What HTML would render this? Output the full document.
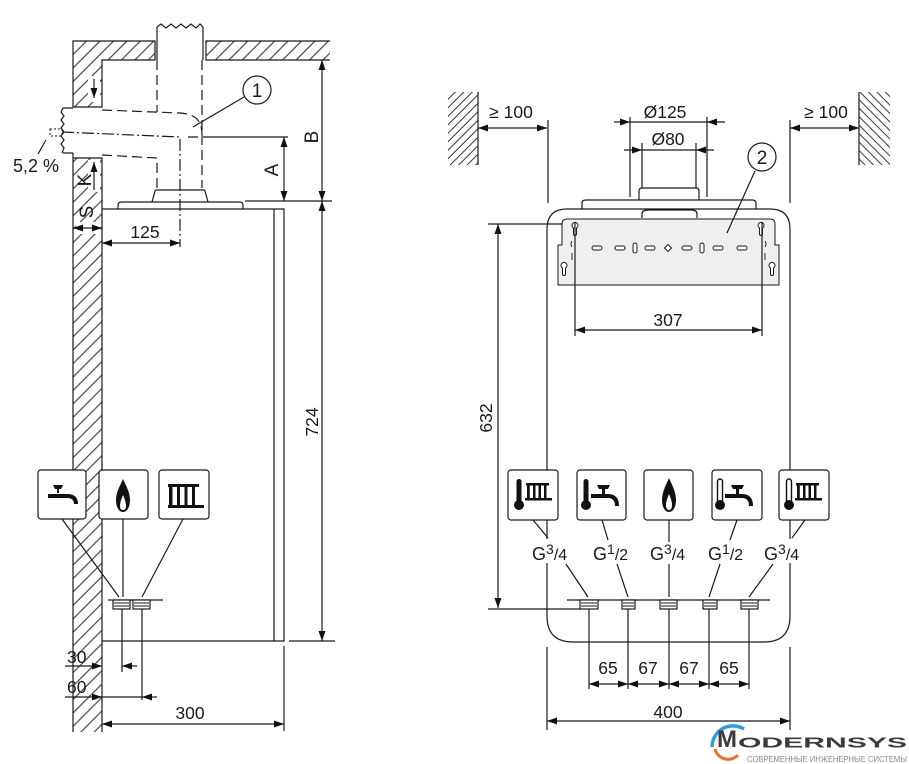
<!DOCTYPE html>
<html><head><meta charset="utf-8"><style>
html,body{margin:0;padding:0;background:#fff;}
svg{display:block;}
text{font-family:"Liberation Sans",Arial,sans-serif;fill:#1a1a1a;}
</style></head><body>
<svg width="909" height="764" viewBox="0 0 909 764" xmlns="http://www.w3.org/2000/svg">
<defs>
<marker id="a" viewBox="0 0 10 7" refX="10" refY="3.5" markerWidth="10" markerHeight="7" markerUnits="userSpaceOnUse" orient="auto-start-reverse"><path d="M0,0L10,3.5L0,7z" fill="#111"/></marker>
<pattern id="h1" width="9.5" height="9.5" patternUnits="userSpaceOnUse" patternTransform="rotate(45)"><line x1="4.75" y1="0" x2="4.75" y2="9.5" stroke="#222" stroke-width="1"/></pattern>
<pattern id="h2" width="6" height="6" patternUnits="userSpaceOnUse" patternTransform="rotate(45)"><line x1="3" y1="0" x2="3" y2="6" stroke="#222" stroke-width="0.9"/></pattern>
<pattern id="h3" width="6" height="6" patternUnits="userSpaceOnUse" patternTransform="rotate(-45)"><line x1="3" y1="0" x2="3" y2="6" stroke="#222" stroke-width="0.9"/></pattern>
</defs>
<rect width="909" height="764" fill="#fff"/>

<g stroke="#1a1a1a" stroke-width="1.2" fill="none">
<!-- ===== LEFT VIEW ===== -->
<!-- ceiling + upper wall -->
<path d="M73,41 L155,41 L155,60 L102,60 L102,107 L73,107 Z" fill="url(#h1)" stroke="none"/>
<path d="M206,41 L330,41 L330,60 L206,60 Z" fill="url(#h1)" stroke="none"/>
<rect x="88" y="76" width="12" height="26" fill="#fff" stroke="none"/>
<path d="M155,41 L73,41 L73,107 L102,107 L102,60 L155,60 Z"/>
<path d="M330,41 L206,41 L206,60 L330,60"/>
<!-- lower wall -->
<rect x="73" y="158" width="29" height="574" fill="url(#h1)" stroke="none"/>
<rect x="88" y="160" width="12" height="32" fill="#fff" stroke="none"/>
<rect x="76" y="222" width="24" height="12" fill="#fff" stroke="none"/>
<path d="M73,732 L73,153 M73,158 L102,158 L102,732"/>
<!-- pipe through ceiling -->
<path d="M157,60 L157,27 M203,60 L203,27"/>
<path d="M157,27 L161,24 L166,28 L171,24 L176,28 L181,24 L186,28 L191,24 L196,28 L200,24 L203,27"/>
<path d="M157,60 L157,112 M202,60 L202,188" stroke-dasharray="10,5"/>
<!-- horizontal pipe -->
<path d="M63,108 L73,108 M63,153 L73,153"/>
<path d="M102,110 L180,113 C196,114 202,121 202,135" stroke-dasharray="10,5"/>
<path d="M102,155 L157,158 L157,188" stroke-dasharray="10,5"/>
<path d="M63,108 L61,112 L64,116 L61,120 L64,124 L61,128 L64,132 L61,136 L64,140 L61,144 L64,148 L62,153"/>
<rect x="50" y="129" width="12" height="7" stroke-dasharray="2,2" stroke-width="1"/>
<path d="M62,132 L180,137 L180,247" stroke-dasharray="12,3,2,3"/>
<path d="M188,137 L198,137 M203,137 L288,137"/>
<!-- 5,2% leader -->
<path d="M46,140 L38,154"/>
<!-- circle 1 -->
<circle cx="257" cy="90" r="14"/>
<path d="M244,97 L193,127"/>
<!-- down arrow in wall -->
<path d="M94,79 L94,98" marker-end="url(#a)"/>
<!-- K -->
<path d="M94,190 L94,162" marker-end="url(#a)"/>
<!-- S -->
<path d="M73,228 L102,228" marker-start="url(#a)" marker-end="url(#a)"/>
<!-- boiler side -->
<path d="M102,209 L284,209 L284,641 L102,641"/>
<path d="M274,209 L274,641"/>
<path d="M118,209 L118,205 Q118,202 122,202 L239,202 Q243,202 243,205 L243,209"/>
<path d="M152,202 L155,191 Q155,190 157,190 L203,190 Q205,190 205,191 L208,202"/>
<!-- dims A, B, 724 -->
<path d="M284,137 L284,201" marker-start="url(#a)" marker-end="url(#a)"/>
<path d="M322,60 L322,201" marker-start="url(#a)" marker-end="url(#a)"/>
<path d="M322,201 L322,641" marker-start="url(#a)" marker-end="url(#a)"/>
<path d="M245,201 L332,201"/>
<path d="M330,60 L330,60"/>
<path d="M289,641 L335,641"/>
<!-- 125 -->
<path d="M102,243 L180,243" marker-start="url(#a)" marker-end="url(#a)"/>
<!-- icons left -->
<rect x="38" y="470" width="48" height="49" rx="3" fill="#fff"/>
<rect x="99" y="470" width="49" height="49" rx="3" fill="#fff"/>
<rect x="159" y="470" width="50" height="49" rx="3" fill="#fff"/>
<path d="M62,519 L119,597 M123,519 L123,597 M183,519 L142,597"/>
<path d="M108,600 L163,600"/>
<rect x="113" y="600" width="17" height="9" fill="#fff"/>
<rect x="133" y="600" width="17" height="9" fill="#fff"/>
<path d="M114,603 L129,603 M114,606 L129,606 M134,603 L149,603 M134,606 L149,606" stroke-width="0.9"/>
<path d="M122,609 L122,672 M142,609 L142,700"/>
<!-- 30 / 60 / 300 -->
<path d="M65,666 L102,666" marker-end="url(#a)"/>
<path d="M137,666 L122,666" marker-end="url(#a)"/>
<path d="M65,697 L102,697" marker-end="url(#a)"/>
<path d="M157,697 L142,697" marker-end="url(#a)"/>
<path d="M102,697 L142,697"/>
<path d="M102,724 L284,724" marker-start="url(#a)" marker-end="url(#a)"/>
<path d="M284,646 L284,731"/>

<!-- ===== RIGHT VIEW ===== -->
<rect x="448" y="92" width="30" height="73" fill="url(#h2)" stroke="none"/>
<path d="M478,92 L478,165"/>
<rect x="859" y="92" width="31" height="73" fill="url(#h3)" stroke="none"/>
<path d="M859,92 L859,165"/>
<path d="M478,128 L547,128" marker-start="url(#a)" marker-end="url(#a)"/>
<path d="M790,128 L859,128" marker-start="url(#a)" marker-end="url(#a)"/>
<path d="M548,120 L548,203 M790,120 L790,203"/>
<!-- Ø125 / Ø80 -->
<path d="M614,122 L630,122" marker-end="url(#a)"/>
<path d="M725,122 L707,122" marker-end="url(#a)"/>
<path d="M630,122 L707,122"/>
<path d="M624,150 L642,150" marker-end="url(#a)"/>
<path d="M714,150 L696,150" marker-end="url(#a)"/>
<path d="M642,150 L696,150"/>
<path d="M630,117 L630,197 M707,117 L707,197"/>
<path d="M642,143 L642,188 M696,143 L696,188"/>
<path d="M639,200 L639,191 Q639,188 642,188 L696,188 Q699,188 699,191 L699,200"/>
<path d="M582,209 L582,203 Q582,200 586,200 L752,200 Q756,200 756,203 L756,209"/>
<!-- body -->
<path d="M547,229 Q547,209 567,209 L770,209 Q790,209 790,229 L790,616 Q790,642 764,642 L573,642 Q547,642 547,616 Z" fill="#fff"/>
<path d="M642,218 L642,214 Q642,210 648,210 L691,210 Q697,210 697,214 L697,218"/>
<!-- bracket -->
<path d="M567,219 L770,219 Q775,219 775,224 L775,245 L779,245 L779,285 L558,285 L558,245 L562,245 L562,224 Q562,219 567,219 Z" fill="#efefef" stroke-width="1"/>
<g stroke-width="1" fill="#fff">
<path d="M573.5,228 A3,3 0 1 1 576.5,228 L576.5,234 A1.5,1.5 0 0 1 573.5,234 Z"/>
<path d="M759.5,228 A3,3 0 1 1 762.5,228 L762.5,234 A1.5,1.5 0 0 1 759.5,234 Z"/>
<path d="M562.5,268 A3,3 0 1 1 565.5,268 L565.5,274 A1.5,1.5 0 0 1 562.5,274 Z"/>
<path d="M770.5,268 A3,3 0 1 1 773.5,268 L773.5,274 A1.5,1.5 0 0 1 770.5,274 Z"/>
<rect x="592" y="246" width="10" height="4" rx="2"/>
<rect x="615" y="246" width="10" height="4" rx="2"/>
<rect x="633" y="243" width="4" height="10" rx="2"/>
<rect x="645" y="246" width="10" height="4" rx="2"/>
<path d="M668,244.5 L671.5,248 L668,251.5 L664.5,248 Z"/>
<rect x="682" y="246" width="10" height="4" rx="2"/>
<rect x="700" y="243" width="4" height="10" rx="2"/>
<rect x="713" y="246" width="10" height="4" rx="2"/>
<rect x="737" y="246" width="10" height="4" rx="2"/>
</g>
<path d="M572,241 Q570,244 572,247 M572,253 L572,260 M765,241 Q767,244 765,247 M765,253 L765,260" stroke-width="0.9"/>
<!-- 307 -->
<path d="M575,222 L575,336 M762,222 L762,336"/>
<path d="M575,330 L762,330" marker-start="url(#a)" marker-end="url(#a)"/>
<!-- circle 2 -->
<circle cx="762" cy="157" r="14" fill="#fff"/>
<path d="M755,171 L727,233"/>
<!-- 632 -->
<path d="M488,224 L562,224 M488,609 L580,609"/>
<path d="M498,224 L498,608" marker-start="url(#a)" marker-end="url(#a)"/>
<!-- label backgrounds -->
<rect x="530" y="539" width="42" height="24" fill="#fff" stroke="none"/>
<rect x="772" y="539" width="42" height="24" fill="#fff" stroke="none"/>
<!-- icon boxes right -->
<rect x="508" y="470" width="50" height="50" rx="3" fill="#fff"/>
<rect x="577" y="470" width="49" height="50" rx="3" fill="#fff"/>
<rect x="644" y="470" width="49" height="50" rx="3" fill="#fff"/>
<rect x="712" y="470" width="50" height="50" rx="3" fill="#fff"/>
<rect x="779" y="470" width="50" height="50" rx="3" fill="#fff"/>
<!-- leaders -->
<path d="M533,520 L548,538 M566,564 L588,597"/>
<path d="M602,520 L608,540 M617,564 L628,597"/>
<path d="M669,520 L669,542 M669,564 L669,597"/>
<path d="M737,520 L730,540 M720,564 L709,597"/>
<path d="M805,520 L792,538 M773,564 L749,597"/>
<!-- fittings -->
<path d="M567,600 L770,600"/>
<g fill="#fff">
<rect x="580" y="600" width="18" height="9"/>
<rect x="622" y="600" width="13" height="9"/>
<rect x="660" y="600" width="17" height="9"/>
<rect x="703" y="600" width="14" height="9"/>
<rect x="741" y="600" width="17" height="9"/>
</g>
<path d="M581,603 L597,603 M581,606 L597,606 M623,603 L634,603 M623,606 L634,606 M661,603 L676,603 M661,606 L676,606 M704,603 L716,603 M704,606 L716,606 M742,603 L757,603 M742,606 L757,606" stroke-width="0.9"/>
<path d="M589,609 L589,689 M628,609 L628,689 M669,609 L669,689 M709,609 L709,689 M749,609 L749,689"/>
<path d="M589,684 L628,684" marker-start="url(#a)" marker-end="url(#a)"/>
<path d="M628,684 L669,684" marker-start="url(#a)" marker-end="url(#a)"/>
<path d="M669,684 L709,684" marker-start="url(#a)" marker-end="url(#a)"/>
<path d="M709,684 L749,684" marker-start="url(#a)" marker-end="url(#a)"/>
<path d="M547,647 L547,730 M790,647 L790,730"/>
<path d="M547,721 L790,721" marker-start="url(#a)" marker-end="url(#a)"/>
</g>

<!-- ICON GLYPHS -->
<g fill="#111" stroke="none">
<!-- left tap -->
<path d="M53,485 L63,485 L61,489 L59,489 L59,493 L57,493 L57,489 L55,489 Z"/>
<path d="M48,494 L67,494 Q78,494 78,504 L74,504 Q74,498 67,498 L48,498 Z"/>
<!-- left flame -->
<path d="M123,479 C120,486 116,492 116,500 C116,507 119,512 123,512 C127,512 130,507 130,500 C130,492 126,486 123,479 Z"/>
<path d="M123,495 C121,500 120,503 120,506 C120,509 121,510 123,510 C125,510 126,509 126,506 C126,503 125,500 123,495 Z" fill="#fff"/>
<!-- left radiator -->
<rect x="168" y="484" width="31" height="3"/>
<rect x="169" y="484" width="3.5" height="24"/>
<rect x="177" y="484" width="3" height="22"/>
<rect x="184.5" y="484" width="3" height="22"/>
<rect x="192" y="484" width="3" height="22"/>
<rect x="168" y="505" width="36" height="3"/>
<!-- right box1: thermometer + radiator -->
<rect x="516.5" y="479" width="5" height="24" rx="2.5"/>
<circle cx="519" cy="505" r="5"/>
<rect x="526" y="483" width="23" height="2.5"/>
<rect x="527" y="483" width="2.8" height="17"/>
<rect x="533" y="483" width="2.5" height="16"/>
<rect x="538.5" y="483" width="2.5" height="16"/>
<rect x="544" y="483" width="2.5" height="16"/>
<rect x="525" y="498" width="27" height="2.5"/>
<!-- right box2: thermometer + tap -->
<rect x="583.5" y="479" width="5" height="24" rx="2.5"/>
<circle cx="586" cy="505" r="5"/>
<path d="M597,485 L610,485 L608,489 L605,489 L605,494 L602,494 L602,489 L599,489 Z"/>
<path d="M591,494 L608,494 Q619,494 619,506 L615,506 Q615,498 608,498 L591,498 Z"/>
<!-- right box3: flame -->
<path d="M669,478 C666,485 662,492 662,500 C662,507 665,512 669,512 C673,512 676,507 676,500 C676,492 672,485 669,478 Z"/>
<path d="M669,494 C667,499 666,502 666,505 C666,508 667,510 669,510 C671,510 672,508 672,505 C672,502 671,499 669,494 Z" fill="#fff"/>
<!-- right box4: thermometer outline + tap -->
<rect x="717.5" y="479" width="5" height="24" rx="2.5" fill="#fff" stroke="#111" stroke-width="1.4"/>
<circle cx="720" cy="505" r="5"/>
<path d="M731,485 L744,485 L742,489 L739,489 L739,494 L736,494 L736,489 L733,489 Z"/>
<path d="M725,494 L742,494 Q753,494 753,506 L749,506 Q749,498 742,498 L725,498 Z"/>
<!-- right box5: thermometer outline + radiator -->
<rect x="786.5" y="479" width="5" height="24" rx="2.5" fill="#fff" stroke="#111" stroke-width="1.4"/>
<circle cx="789" cy="505" r="5"/>
<rect x="796" y="483" width="23" height="2.5"/>
<rect x="797" y="483" width="2.8" height="17"/>
<rect x="803" y="483" width="2.5" height="16"/>
<rect x="808.5" y="483" width="2.5" height="16"/>
<rect x="814" y="483" width="2.5" height="16"/>
<rect x="795" y="498" width="27" height="2.5"/>
</g>

<!-- TEXT -->
<g font-size="17.5">
<text x="13" y="172" font-size="18">5,2 %</text>
<text x="257" y="97" font-size="19" text-anchor="middle">1</text>
<text x="145" y="238" text-anchor="middle">125</text>
<text transform="translate(278,170) rotate(-90)" text-anchor="middle" font-size="19">A</text>
<text transform="translate(318,137) rotate(-90)" text-anchor="middle" font-size="19">B</text>
<text transform="translate(91,180) rotate(-90)" text-anchor="middle" font-size="19">K</text>
<text transform="translate(93,212) rotate(-90)" text-anchor="middle" font-size="19">S</text>
<text transform="translate(318,422) rotate(-90)" text-anchor="middle">724</text>
<text x="67" y="663">30</text>
<text x="67" y="693">60</text>
<text x="190" y="719" text-anchor="middle">300</text>

<text x="511" y="118" text-anchor="middle">≥ 100</text>
<text x="826" y="118" text-anchor="middle">≥ 100</text>
<text x="665" y="118" text-anchor="middle">Ø125</text>
<text x="668" y="145" text-anchor="middle">Ø80</text>
<text x="762" y="164" font-size="19" text-anchor="middle">2</text>
<text x="668" y="326" text-anchor="middle">307</text>
<text transform="translate(492,418) rotate(-90)" text-anchor="middle">632</text>

<text x="532" y="560" font-size="18">G<tspan font-size="14" dy="-6">3</tspan><tspan font-size="16" dy="6">/4</tspan></text>
<text x="593" y="560" font-size="18">G<tspan font-size="14" dy="-6">1</tspan><tspan font-size="16" dy="6">/2</tspan></text>
<text x="650" y="560" font-size="18">G<tspan font-size="14" dy="-6">3</tspan><tspan font-size="16" dy="6">/4</tspan></text>
<text x="708" y="560" font-size="18">G<tspan font-size="14" dy="-6">1</tspan><tspan font-size="16" dy="6">/2</tspan></text>
<text x="764" y="560" font-size="18">G<tspan font-size="14" dy="-6">3</tspan><tspan font-size="16" dy="6">/4</tspan></text>

<text x="608" y="674" text-anchor="middle">65</text>
<text x="648" y="674" text-anchor="middle">67</text>
<text x="689" y="674" text-anchor="middle">67</text>
<text x="729" y="674" text-anchor="middle">65</text>
<text x="668" y="718" text-anchor="middle">400</text>
</g>

<!-- LOGO -->
<path d="M712,747 A21,21 0 0 1 744,729" fill="none" stroke="#2a9fd8" stroke-width="3.5"/>
<path d="M715,749 A13.5,13.5 0 0 0 738,755" fill="none" stroke="#e8742a" stroke-width="3"/>
<text x="717" y="747" font-size="24" font-weight="bold" style="fill:#3b3b3b" textLength="20" lengthAdjust="spacingAndGlyphs">M</text>
<text x="738" y="747.5" font-size="15" font-weight="bold" style="fill:#3b3b3b" textLength="169" lengthAdjust="spacingAndGlyphs">ODERNSYS</text>
<text x="747" y="762" font-size="8" style="fill:#8a8a8a" textLength="160" lengthAdjust="spacingAndGlyphs">СОВРЕМЕННЫЕ ИНЖЕНЕРНЫЕ СИСТЕМЫ</text>
</svg>
</body></html>
